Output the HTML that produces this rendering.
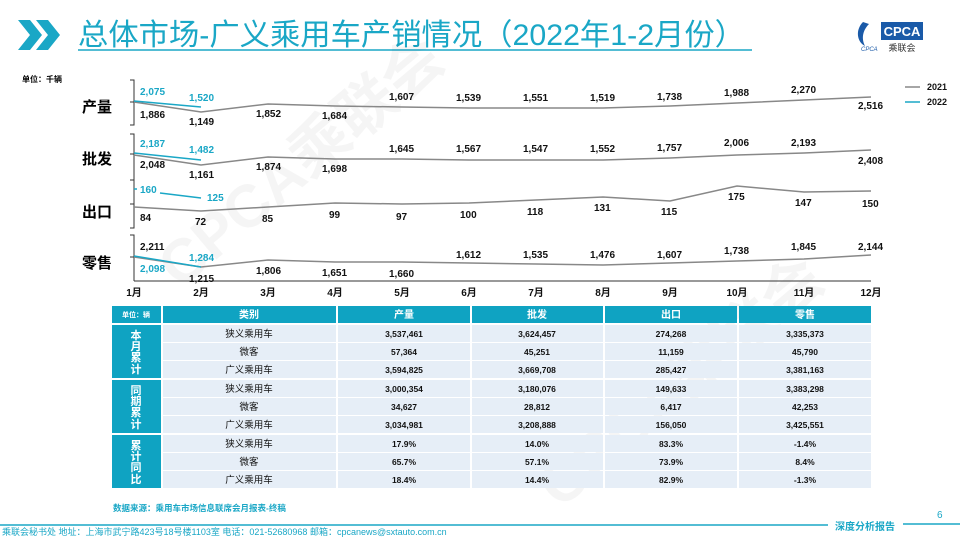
<!DOCTYPE html>
<html><head><meta charset="utf-8"><style>
body{margin:0;width:960px;height:540px;overflow:hidden;background:#fff;font-family:"Liberation Sans","Noto Sans CJK SC",sans-serif}
svg text{font-family:"Liberation Sans","Noto Sans CJK SC",sans-serif}
</style></head><body>
<svg width="960" height="540" viewBox="0 0 960 540" xmlns="http://www.w3.org/2000/svg">
<!-- header -->
<polygon points="18,20 30,20 42,35 30,50 18,50 30,35" fill="#1aa7c6"/>
<polygon points="36,20 48,20 60,35 48,50 36,50 48,35" fill="#1aa7c6"/>
<text x="78" y="45" font-size="30" fill="#1aa7c6" textLength="667" lengthAdjust="spacingAndGlyphs">总体市场-广义乘用车产销情况（2022年1-2月份）</text>
<line x1="78" y1="50" x2="752" y2="50" stroke="#1aa7c6" stroke-width="1.5"/>
<g transform="translate(855,20)">
<path d="M8 2 C0 10 2 22 10 26 C6 18 8 10 14 4 Z" fill="#1a5aa8"/>
<rect x="26" y="2" width="42" height="18" fill="#1a5aa8"/>
<text x="47" y="16" font-size="13" fill="#fff" text-anchor="middle" font-weight="bold">CPCA</text>
<text x="47" y="31" font-size="9" fill="#333" text-anchor="middle">乘联会</text>
<text x="6" y="31" font-size="6" fill="#1a5aa8" font-style="italic">CPCA</text>
</g>
<!-- watermark -->
<text x="0" y="0" font-size="60" font-weight="bold" fill="#000" opacity="0.035" transform="translate(180,290) rotate(-40)">CPCA乘联会</text>
<text x="0" y="0" font-size="60" font-weight="bold" fill="#000" opacity="0.035" transform="translate(560,510) rotate(-40)">CPCA乘联会</text>
<text x="22" y="82" font-size="8" fill="#000" font-weight="bold">单位：千辆</text>
<!-- row labels -->
<g font-size="15" font-weight="bold" fill="#000">
<text x="82" y="112">产量</text><text x="82" y="164">批发</text><text x="82" y="217">出口</text><text x="82" y="268">零售</text>
</g>
<!-- brackets -->
<g stroke="#333" stroke-width="1" fill="none">
<path d="M130 80 H134 V125 H130 M130 102 H134"/>
<path d="M130 134 H134 V180 H130 M130 154 H134"/>
<path d="M130 180 H134 V228 H130 M130 204 H134"/>
<path d="M130 235 H134 V281 M130 257 H134"/>
<line x1="134" y1="281" x2="871" y2="281"/>
</g>
<!-- 2021 lines -->
<g stroke="#888" stroke-width="1.5" fill="none">
<polyline points="134,102 201,112 268,104 335,106 402,107 469,108 536,108 603,108 670,106 737,103 804,100 871,97"/>
<polyline points="134,155 201,165 268,157 335,159 402,159 469,160 536,160 603,160 670,158 737,155 804,153 871,150"/>
<polyline points="134,207 201,211 268,207 335,203 402,204 469,203 536,200 603,197 670,201 737,186 804,192 871,191"/>
<polyline points="134,257 201,267 268,260 335,262 402,262 469,263 536,264 603,265 670,263 737,261 804,259 871,255"/>
</g>
<g stroke="#1aa7c6" stroke-width="1.5" fill="none">
<line x1="134" y1="101" x2="201" y2="107"/>
<line x1="134" y1="153" x2="201" y2="160"/>
<line x1="134" y1="189" x2="137" y2="189"/><line x1="160" y1="193" x2="201" y2="198"/>
<line x1="134" y1="256" x2="201" y2="267"/>
</g>
<g font-size="10" font-weight="bold" fill="#1aa7c6">
<text x="140" y="95">2,075</text><text x="189" y="101">1,520</text>
<text x="140" y="147">2,187</text><text x="189" y="153">1,482</text>
<text x="140" y="193">160</text><text x="207" y="201">125</text>
<text x="140" y="272">2,098</text><text x="189" y="261">1,284</text>
</g>
<g font-size="10" font-weight="bold" fill="#111">
<text x="140" y="118">1,886</text><text x="189" y="125">1,149</text><text x="256" y="117">1,852</text><text x="322" y="119">1,684</text><text x="389" y="100">1,607</text><text x="456" y="101">1,539</text><text x="523" y="101">1,551</text><text x="590" y="101">1,519</text><text x="657" y="100">1,738</text><text x="724" y="96">1,988</text><text x="791" y="93">2,270</text><text x="858" y="109">2,516</text>
<text x="140" y="168">2,048</text><text x="189" y="178">1,161</text><text x="256" y="170">1,874</text><text x="322" y="172">1,698</text><text x="389" y="152">1,645</text><text x="456" y="152">1,567</text><text x="523" y="152">1,547</text><text x="590" y="152">1,552</text><text x="657" y="151">1,757</text><text x="724" y="146">2,006</text><text x="791" y="146">2,193</text><text x="858" y="164">2,408</text>
<text x="140" y="221">84</text><text x="195" y="225">72</text><text x="262" y="222">85</text><text x="329" y="218">99</text><text x="396" y="220">97</text><text x="460" y="218">100</text><text x="527" y="215">118</text><text x="594" y="211">131</text><text x="661" y="215">115</text><text x="728" y="200">175</text><text x="795" y="206">147</text><text x="862" y="207">150</text>
<text x="140" y="250">2,211</text><text x="189" y="282">1,215</text><text x="256" y="274">1,806</text><text x="322" y="276">1,651</text><text x="389" y="277">1,660</text><text x="456" y="258">1,612</text><text x="523" y="258">1,535</text><text x="590" y="258">1,476</text><text x="657" y="258">1,607</text><text x="724" y="254">1,738</text><text x="791" y="250">1,845</text><text x="858" y="250">2,144</text>
</g>
<g font-size="10" font-weight="bold" fill="#111" text-anchor="middle">
<text x="134" y="296">1月</text><text x="201" y="296">2月</text><text x="268" y="296">3月</text><text x="335" y="296">4月</text><text x="402" y="296">5月</text><text x="469" y="296">6月</text><text x="536" y="296">7月</text><text x="603" y="296">8月</text><text x="670" y="296">9月</text><text x="737" y="296">10月</text><text x="804" y="296">11月</text><text x="871" y="296">12月</text>
</g>
<!-- legend -->
<line x1="905" y1="87" x2="920" y2="87" stroke="#888" stroke-width="1.5"/>
<line x1="905" y1="102" x2="920" y2="102" stroke="#1aa7c6" stroke-width="1.5"/>
<g font-size="9" font-weight="bold" fill="#111"><text x="927" y="90">2021</text><text x="927" y="105">2022</text></g>
<!-- table -->
<g fill="#0fa3c2">
<rect x="112" y="306" width="49" height="17"/><rect x="163" y="306" width="173" height="17"/><rect x="338" y="306" width="132" height="17"/><rect x="472" y="306" width="131" height="17"/><rect x="605" y="306" width="132" height="17"/><rect x="739" y="306" width="132" height="17"/>
<rect x="112" y="325" width="49" height="53"/><rect x="112" y="380" width="49" height="53"/><rect x="112" y="435" width="49" height="53"/>
</g>
<g fill="#e6eef7">
<rect x="163" y="325" width="708" height="17"/><rect x="163" y="343" width="708" height="17"/><rect x="163" y="361" width="708" height="17"/>
<rect x="163" y="380" width="708" height="17"/><rect x="163" y="398" width="708" height="17"/><rect x="163" y="416" width="708" height="17"/>
<rect x="163" y="435" width="708" height="17"/><rect x="163" y="453" width="708" height="17"/><rect x="163" y="471" width="708" height="17"/>
</g>
<g stroke="#fff" stroke-width="2"><line x1="337" y1="325" x2="337" y2="488"/><line x1="471" y1="325" x2="471" y2="488"/><line x1="604" y1="325" x2="604" y2="488"/><line x1="738" y1="325" x2="738" y2="488"/></g>
<g fill="#fff" font-weight="bold" text-anchor="middle">
<text x="136" y="317" font-size="7">单位：辆</text>
<g font-size="10"><text x="249" y="318">类别</text><text x="404" y="318">产量</text><text x="537" y="318">批发</text><text x="671" y="318">出口</text><text x="805" y="318">零售</text></g>
<g font-size="11"><text x="136" y="339">本</text><text x="136" y="350">月</text><text x="136" y="361">累</text><text x="136" y="373">计</text>
<text x="136" y="394">同</text><text x="136" y="405">期</text><text x="136" y="416">累</text><text x="136" y="428">计</text>
<text x="136" y="449">累</text><text x="136" y="460">计</text><text x="136" y="471">同</text><text x="136" y="483">比</text></g>
</g>
<g font-size="9.5" fill="#111" text-anchor="middle">
<text x="249" y="337">狭义乘用车</text><text x="249" y="355">微客</text><text x="249" y="373">广义乘用车</text>
<text x="249" y="392">狭义乘用车</text><text x="249" y="410">微客</text><text x="249" y="428">广义乘用车</text>
<text x="249" y="447">狭义乘用车</text><text x="249" y="465">微客</text><text x="249" y="483">广义乘用车</text>
</g>
<g font-size="8.5" font-weight="bold" fill="#111" text-anchor="middle">
<text x="404" y="337">3,537,461</text><text x="537" y="337">3,624,457</text><text x="671" y="337">274,268</text><text x="805" y="337">3,335,373</text>
<text x="404" y="355">57,364</text><text x="537" y="355">45,251</text><text x="671" y="355">11,159</text><text x="805" y="355">45,790</text>
<text x="404" y="373">3,594,825</text><text x="537" y="373">3,669,708</text><text x="671" y="373">285,427</text><text x="805" y="373">3,381,163</text>
<text x="404" y="392">3,000,354</text><text x="537" y="392">3,180,076</text><text x="671" y="392">149,633</text><text x="805" y="392">3,383,298</text>
<text x="404" y="410">34,627</text><text x="537" y="410">28,812</text><text x="671" y="410">6,417</text><text x="805" y="410">42,253</text>
<text x="404" y="428">3,034,981</text><text x="537" y="428">3,208,888</text><text x="671" y="428">156,050</text><text x="805" y="428">3,425,551</text>
<text x="404" y="447">17.9%</text><text x="537" y="447">14.0%</text><text x="671" y="447">83.3%</text><text x="805" y="447">-1.4%</text>
<text x="404" y="465">65.7%</text><text x="537" y="465">57.1%</text><text x="671" y="465">73.9%</text><text x="805" y="465">8.4%</text>
<text x="404" y="483">18.4%</text><text x="537" y="483">14.4%</text><text x="671" y="483">82.9%</text><text x="805" y="483">-1.3%</text>
</g>
<text x="113" y="511" font-size="8.5" font-weight="bold" fill="#1aa7c6">数据来源：乘用车市场信息联席会月报表-终稿</text>
<!-- footer -->
<line x1="0" y1="525" x2="828" y2="525" stroke="#1aa7c6" stroke-width="1.5"/>
<line x1="903" y1="524" x2="960" y2="524" stroke="#1aa7c6" stroke-width="1.5"/>
<text x="835" y="530" font-size="10" fill="#1aa7c6" font-weight="bold">深度分析报告</text>
<text x="937" y="518" font-size="10" fill="#1aa7c6">6</text>
<text x="2" y="535" font-size="9" fill="#1aa7c6">乘联会秘书处  地址：上海市武宁路423号18号楼1103室  电话：021-52680968  邮箱：cpcanews@sxtauto.com.cn</text>
</svg>
</body></html>
